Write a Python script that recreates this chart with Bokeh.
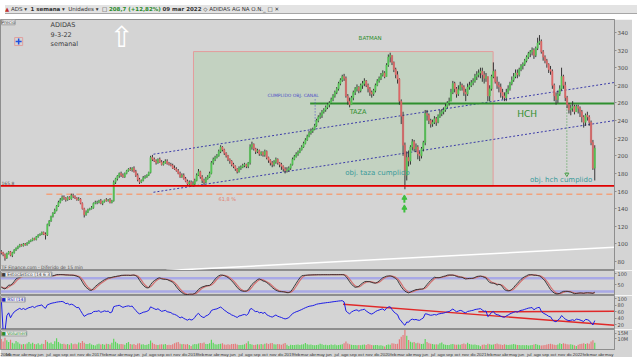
import numpy as np
import pandas as pd
from bokeh.plotting import figure
from bokeh.layouts import column
from bokeh.models import (ColumnDataSource, Range1d, FixedTicker,
                          CustomJSTickFormatter, Label, Div)
from bokeh.embed import file_html
from bokeh.resources import INLINE

# ---------------- data: weekly candles, ADIDAS (week starting Monday) ----------------
FIRST_WEEK = "2016-01-04"
FIRST_OPEN = 91.0

close_2016 = [90, 88, 84, 89, 91, 87, 90, 93, 95, 97, 99, 98, 100, 99, 101, 103, 104,
              106, 105, 108, 110, 111, 113, 111, 110, 122, 126, 131, 135, 138, 143, 147,
              150, 153, 152, 150, 153, 151, 155, 154, 152, 150, 151, 146, 140, 133, 136,
              139, 140, 141, 146, 147]
high_2016 = [93, 91, 89, 90, 92, 92, 91, 94, 96, 98, 100, 100, 101, 101, 102, 104, 105,
             107, 107, 109, 111, 112, 114, 114, 113, 123, 127, 132, 136, 140, 144, 149,
             152, 155, 155, 153, 154, 154, 157, 157, 155, 153, 153, 152, 147, 141, 138,
             140, 141, 143, 147, 149]
low_2016 = [88, 86, 81, 83, 88, 86, 85, 89, 92, 94, 96, 97, 97, 98, 98, 100, 102,
            103, 104, 104, 107, 109, 110, 110, 105, 109, 120, 125, 130, 134, 137, 142,
            146, 149, 150, 148, 149, 150, 150, 152, 151, 149, 149, 145, 139, 130, 132,
            135, 138, 139, 140, 145]

close_2017 = [147, 149, 146, 148, 150, 149, 150, 147, 149, 170, 174, 177, 180, 178, 176, 180, 183,
              185, 184, 186, 182, 178, 173, 170, 172, 175, 176, 178, 181, 198, 196, 194, 192, 196,
              193, 190, 192, 194, 191, 190, 189, 186, 185, 183, 180, 176, 178, 174, 171, 168, 170, 167]
high_2017 = [149, 150, 151, 149, 150, 152, 151, 152, 150, 172, 175, 178, 181, 182, 180, 181, 184,
             186, 187, 187, 188, 184, 180, 175, 173, 177, 178, 179, 182, 200, 201, 198, 196, 197,
             198, 195, 194, 196, 196, 193, 192, 191, 189, 187, 185, 182, 180, 180, 176, 173, 172, 172]
low_2017 = [145, 146, 145, 144, 147, 148, 148, 146, 146, 148, 168, 172, 175, 176, 175, 175, 179,
            182, 183, 182, 181, 176, 171, 168, 169, 171, 174, 175, 177, 180, 194, 193, 190, 191,
            192, 189, 189, 191, 190, 189, 188, 185, 184, 182, 179, 175, 175, 173, 170, 166, 166, 165]

close_2018 = [168, 172, 178, 182, 176, 172, 170, 174, 176, 180, 192, 196, 198, 200, 205, 210, 207,
              203, 200, 196, 194, 190, 188, 185, 182, 186, 187, 189, 190, 188, 192, 210, 213, 208,
              205, 206, 202, 204, 201, 205, 198, 195, 192, 190, 193, 196, 192, 190, 188, 185, 183,
              184, 186]
high_2018 = [171, 174, 180, 185, 183, 178, 174, 176, 178, 182, 194, 198, 200, 202, 207, 212, 211,
             208, 204, 201, 197, 195, 192, 189, 186, 188, 189, 191, 192, 191, 193, 213, 216, 214,
             209, 208, 207, 205, 205, 207, 206, 199, 196, 194, 195, 198, 197, 193, 192, 189, 187,
             187, 188]
low_2018 = [165, 166, 171, 177, 174, 169, 167, 169, 173, 175, 179, 190, 194, 197, 199, 203, 205,
            201, 198, 194, 191, 188, 186, 183, 180, 181, 184, 186, 187, 186, 186, 190, 207, 206,
            202, 203, 200, 200, 199, 199, 196, 192, 189, 187, 188, 191, 190, 187, 184, 182, 180,
            181, 182]

close_2019 = [190, 196, 199, 202, 204, 207, 210, 214, 218, 222, 226, 228, 230, 234, 240, 244, 246,
              250, 252, 255, 258, 260, 264, 268, 272, 276, 282, 286, 290, 288, 268, 262, 258, 266,
              272, 276, 278, 274, 280, 282, 285, 280, 276, 272, 270, 274, 280, 285, 288, 292, 294, 290]
high_2019 = [191, 198, 201, 204, 206, 209, 212, 216, 220, 224, 228, 231, 232, 236, 242, 246, 249,
             252, 254, 257, 260, 262, 266, 270, 274, 278, 284, 288, 292, 293, 290, 270, 266, 268,
             274, 278, 281, 279, 282, 285, 288, 286, 282, 278, 274, 276, 282, 287, 290, 294, 297, 296]
low_2019 = [184, 189, 195, 198, 200, 203, 206, 209, 213, 217, 221, 224, 226, 229, 233, 238, 242,
            243, 248, 250, 253, 255, 259, 262, 266, 270, 274, 280, 284, 285, 266, 258, 255, 258,
            263, 269, 273, 271, 272, 276, 279, 278, 272, 268, 266, 268, 272, 279, 283, 286, 290, 288]

close_2020 = [303, 312, 314, 306, 298, 292, 287, 262, 245, 212, 178, 198, 194, 210, 216, 208, 210,
              202, 200, 208, 215, 248, 246, 240, 236, 238, 242, 238, 245, 248, 250, 252, 256, 260,
              262, 272, 282, 276, 270, 275, 280, 278, 272, 270, 278, 280, 283, 285, 290, 292, 294, 296]
high_2020 = [305, 315, 317, 314, 307, 300, 296, 288, 264, 250, 215, 205, 206, 212, 219, 218, 214,
             212, 205, 210, 217, 252, 252, 248, 242, 241, 245, 244, 247, 252, 253, 255, 259, 262,
             266, 276, 285, 284, 278, 280, 284, 282, 280, 276, 282, 284, 286, 288, 293, 296, 298, 300]
low_2020 = [293, 301, 306, 303, 295, 288, 282, 258, 236, 200, 162, 172, 188, 190, 206, 205, 204,
            196, 194, 197, 205, 212, 240, 236, 232, 233, 236, 234, 237, 243, 245, 247, 250, 254,
            257, 262, 270, 272, 266, 268, 274, 274, 268, 262, 268, 275, 278, 280, 283, 286, 289, 288]

close_2021 = [292, 288, 290, 268, 276, 290, 296, 284, 280, 278, 272, 268, 266, 272, 276, 282, 286,
              290, 294, 292, 298, 302, 304, 308, 312, 316, 318, 320, 314, 322, 328, 330, 318, 312,
              308, 304, 298, 296, 280, 268, 264, 270, 276, 290, 280, 266, 258, 252, 254, 256, 250, 256]
high_2021 = [300, 296, 294, 290, 280, 292, 306, 298, 290, 284, 282, 276, 272, 276, 280, 284, 290,
             294, 298, 298, 300, 304, 306, 310, 314, 318, 320, 323, 322, 324, 334, 337, 332, 320,
             314, 310, 305, 302, 298, 282, 272, 274, 280, 300, 292, 284, 268, 260, 258, 262, 258, 258]
low_2021 = [284, 282, 284, 262, 262, 274, 288, 282, 276, 272, 266, 264, 262, 262, 270, 274, 280,
            284, 288, 288, 290, 296, 298, 302, 306, 310, 312, 314, 310, 312, 320, 326, 316, 308,
            305, 300, 294, 292, 276, 262, 258, 260, 268, 274, 276, 262, 254, 248, 246, 250, 247, 250]

close_2022 = [254, 250, 244, 238, 246, 244, 238, 215, 186, 208.7]
high_2022 = [258, 256, 252, 246, 248, 250, 246, 240, 218, 212]
low_2022 = [248, 244, 238, 232, 234, 240, 234, 212, 184, 172]

# weekly volume, millions of shares
vol_2016 = [9.5, 7.2, 10.8, 8.4, 6.9, 8.8, 6.1, 5.4, 7.8, 6.6, 5.2, 4.6, 5.1, 4.8, 5.5, 6.9, 5.3,
            6.2, 5.0, 4.7, 5.6, 4.4, 5.3, 4.9, 8.6, 7.0, 5.8, 6.3, 5.1, 7.4, 10.2, 6.8, 5.4, 4.9,
            5.2, 4.6, 5.0, 4.4, 5.8, 4.7, 5.3, 4.8, 6.4, 5.9, 7.7, 6.2, 5.1, 4.9, 5.6, 4.5, 4.1, 3.6]
vol_2017 = [4.8, 5.2, 4.6, 5.0, 4.4, 5.3, 4.9, 4.5, 6.2, 9.8, 7.1, 5.6, 4.8, 5.0, 4.7, 4.3, 5.9,
            6.8, 5.1, 4.6, 4.9, 4.2, 5.4, 5.8, 4.5, 4.7, 4.1, 4.4, 5.0, 8.2, 6.1, 4.9, 4.3, 4.0,
            4.5, 4.8, 4.6, 5.1, 4.2, 4.4, 4.0, 4.7, 5.6, 6.4, 6.9, 5.3, 4.8, 5.0, 4.6, 4.9, 4.1, 3.2]
vol_2018 = [4.6, 5.0, 4.7, 5.4, 6.0, 5.8, 6.3, 4.9, 5.1, 5.6, 8.9, 6.2, 4.8, 4.5, 4.9, 5.2, 5.8,
            4.6, 4.4, 4.8, 4.3, 4.9, 5.0, 5.3, 4.6, 4.2, 4.0, 4.4, 4.8, 5.7, 7.6, 5.1, 4.5, 4.2,
            4.3, 4.7, 4.5, 4.9, 4.6, 5.3, 5.8, 4.9, 5.6, 6.0, 4.7, 4.5, 5.1, 4.8, 4.4, 5.2, 5.9,
            4.3, 3.1]
vol_2019 = [4.4, 4.2, 4.0, 4.3, 4.6, 4.1, 4.5, 4.8, 5.9, 4.7, 4.3, 4.5, 4.1, 3.9, 4.2, 4.4, 5.2,
            4.8, 4.0, 4.3, 3.8, 4.1, 4.5, 4.2, 4.6, 3.9, 4.0, 4.3, 4.8, 5.6, 7.2, 5.4, 4.7, 4.4,
            4.0, 4.2, 3.9, 4.1, 3.8, 4.3, 4.5, 4.0, 5.0, 4.6, 4.2, 3.9, 4.1, 4.0, 3.7, 3.9, 3.5, 2.8]
vol_2020 = [4.2, 4.6, 4.4, 5.8, 5.5, 4.9, 5.3, 9.4, 11.6, 13.2, 17.8, 12.4, 8.6, 7.1, 6.4, 6.9,
            5.8, 6.2, 5.5, 5.0, 5.3, 9.6, 6.8, 5.7, 5.2, 4.9, 4.6, 4.8, 4.5, 5.6, 6.3, 4.8, 4.4,
            4.2, 4.0, 4.7, 4.9, 4.5, 4.3, 4.6, 4.4, 5.1, 5.5, 4.8, 6.2, 5.0, 4.6, 4.3, 4.5, 4.2,
            3.9, 3.0]
vol_2021 = [4.3, 4.5, 4.1, 5.2, 4.8, 4.4, 4.6, 4.9, 5.4, 4.7, 4.5, 4.2, 4.8, 4.4, 4.0, 4.3, 4.6,
            5.0, 4.5, 4.1, 4.0, 3.9, 4.2, 3.8, 4.1, 3.7, 3.9, 4.0, 4.6, 5.1, 4.4, 3.9, 3.6, 3.8,
            4.2, 4.6, 4.9, 5.3, 4.7, 4.4, 4.2, 4.5, 5.6, 4.9, 5.8, 5.2, 4.8, 4.5, 4.7, 4.3, 3.9, 3.1]
vol_2022 = [4.4, 4.9, 5.2, 5.8, 5.1, 5.6, 5.3, 7.2, 8.4, 6.1]

# chart levels / drawn objects (dates, prices)
SUPPORT = 165.8
FIB_618 = 156.4
NECKLINE = 259.3
BOX = dict(left="2018-01-03", right="2021-02-14", bottom=165.8, top=318.3)
CHANNEL_UP = (("2017-08-04", 201.8), ("2022-05-21", 283.2))
CHANNEL_DN = (("2017-08-04", 158.6), ("2022-05-21", 240.0))
LONG_LINE = (("2017-09-22", 69.7), ("2022-05-21", 96.2))
RSI_TREND_1 = (("2019-07-25", 83.5), ("2022-05-21", 18.5))
RSI_TREND_2 = (("2020-12-20", 60.0), ("2022-05-21", 61.5))

MONTHS = ["feb", "mar", "abr", "may", "jun", "jul", "ago", "sep", "oct", "nov", "dic"]
PRICE_TICKS = list(range(80, 361, 20))

# ---------------- derived arrays ----------------
closes = np.array(close_2016 + close_2017 + close_2018 + close_2019 + close_2020 + close_2021 + close_2022, float)
highs = np.array(high_2016 + high_2017 + high_2018 + high_2019 + high_2020 + high_2021 + high_2022, float)
lows = np.array(low_2016 + low_2017 + low_2018 + low_2019 + low_2020 + low_2021 + low_2022, float)
vols = np.array(vol_2016 + vol_2017 + vol_2018 + vol_2019 + vol_2020 + vol_2021 + vol_2022, float)
n = len(closes)
dates = pd.date_range(FIRST_WEEK, periods=n, freq="7D")
opens = np.concatenate([[FIRST_OPEN], closes[:-1]])
hi = np.maximum(highs, np.maximum(opens, closes))
lo = np.minimum(lows, np.minimum(opens, closes))
up = closes >= opens
UPC, DNC = "#55c455", "#e06868"
col = np.where(up, UPC, DNC)
vcol = np.where(up, "#5cd65c", "#e57a7a")

C = pd.Series(closes)
hh = pd.Series(hi).rolling(14, min_periods=1).max()
ll = pd.Series(lo).rolling(14, min_periods=1).min()
kraw = 100 * (C - ll) / (hh - ll).replace(0, np.nan)
stk = kraw.rolling(6, min_periods=1).mean()
std = stk.rolling(3, min_periods=1).mean()
delta = C.diff().fillna(0)
ag = delta.clip(lower=0).ewm(alpha=1 / 14, adjust=False).mean()
al = (-delta.clip(upper=0)).ewm(alpha=1 / 14, adjust=False).mean()
rsi = 100 - 100 / (1 + ag / al.replace(0, np.nan))
rsi = rsi.fillna(100)

src = ColumnDataSource(dict(t=dates, o=opens, h=hi, l=lo, c=closes,
                            top=np.maximum(opens, closes), bot=np.minimum(opens, closes),
                            col=col, vol=vols, vcol=vcol, k=stk.values, d=std.values, rsi=rsi.values))


def ms(s):
    return pd.Timestamp(s).value / 1e6


DAY = 86400000.0
X_START, X_END = ms("2016-01-01"), ms("2022-05-21")
xr = Range1d(X_START, X_END)
BG = "#d4d4d4"
FONT = "DejaVu Sans"


def make_fig(fh, yr, xaxis=False, bottom=0):
    f = figure(frame_width=614, frame_height=fh, x_range=xr, y_range=yr,
               x_axis_type="datetime", x_axis_location="below" if xaxis else None,
               y_axis_location="right", output_backend="svg", toolbar_location=None,
               min_border=0, min_border_left=0, min_border_right=18, min_border_top=0,
               min_border_bottom=bottom, background_fill_color=BG, border_fill_color=BG,
               outline_line_color="#8e8e8e")
    f.grid.visible = False
    return f


def style_axis(ax, ticks, size="5.5px"):
    ax.ticker = FixedTicker(ticks=ticks)
    ax.major_label_text_font_size = size
    ax.major_label_text_color = "#4a4a4a"
    ax.major_label_text_font = FONT
    ax.major_tick_in = 0
    ax.major_tick_out = 2
    ax.minor_tick_in = 0
    ax.minor_tick_out = 0
    ax.major_label_standoff = 1
    ax.axis_line_color = "#8e8e8e"
    ax.major_tick_line_color = "#8e8e8e"


def lab(fig, x, y, text, color="#3c3c3c", size="6px", align="left", base="middle", **kw):
    fig.add_layout(Label(x=x, y=y, text=text, text_color=color, text_font_size=size,
                         text_font=FONT, text_align=align, text_baseline=base, **kw))


# ---------------- toolbar strip ----------------
bar = Div(text='<span style="color:#c03030">&#9650;</span> ADS &#9662; &nbsp;<b>1 semana</b> &#9662; &nbsp;Unidades &#9662; &nbsp;&#9633; '
               '<b style="color:#2a8a2a">208,7 (+12,82%)</b> <b>09 mar 2022</b> &#9671; ADIDAS AG NA O.N.'
               '<span style="float:right;padding-right:6px">_ &#9633; &#10005;</span>',
          width=632, height=9,
          styles={"background-color": "#e3e3e3", "font-size": "5.5px", "font-family": FONT,
                  "line-height": "9px", "white-space": "nowrap", "overflow": "hidden",
                  "color": "#333", "border-bottom": "1px solid #a6a6a6"})

# ---------------- main price panel ----------------
p = make_fig(251, Range1d(69.8, 354.7))
style_axis(p.yaxis[0], PRICE_TICKS)

p.quad(left=[ms(BOX["left"])], right=[ms(BOX["right"])], bottom=[BOX["bottom"]], top=[BOX["top"]],
       fill_color="#c3d2c1", line_color="#e39c9c", line_width=1)
p.line([ms(LONG_LINE[0][0]), ms(LONG_LINE[1][0])], [LONG_LINE[0][1], LONG_LINE[1][1]],
       color="white", line_width=1.5)
p.segment(x0=[ms("2016-06-23")], y0=[FIB_618], x1=[X_END], y1=[FIB_618],
          color="#f2a27c", line_width=1.5, line_dash="6 4")
for (a, b) in (CHANNEL_UP, CHANNEL_DN):
    p.line([ms(a[0]), ms(b[0])], [a[1], b[1]], color="#3b3ba8", line_width=1, line_dash="2 2")
p.segment(x0=[ms("2019-03-22")], y0=[NECKLINE], x1=[X_END], y1=[NECKLINE],
          color="#2f8f2f", line_width=2)
p.segment(x0=[ms("2019-04-10")], y0=[264], x1=[ms("2019-04-10")], y1=[229.6],
          color="#5555c8", line_width=1, line_dash="1 2")
p.segment(x0=[ms("2021-11-21")], y0=[NECKLINE], x1=[ms("2021-11-21")], y1=[178],
          color="#4aa04a", line_width=1, line_dash="1 2")
p.scatter([ms("2021-11-21")], [179], marker="inverted_triangle", size=4,
          fill_color=None, line_color="#4aa04a")
p.segment(x0="t", y0="h", x1="t", y1="l", source=src, color="#363636", line_width=1)
p.vbar(x="t", width=5 * DAY, top="top", bottom="bot", fill_color="col", line_color="col",
       line_width=0.5, source=src)
p.segment(x0=[X_START], y0=[SUPPORT], x1=[X_END], y1=[SUPPORT], color="#e00000", line_width=1.6)
# green arrows under the 2020 low
for yv in (151.3, 140.0):
    p.segment(x0=[ms("2020-03-14")], y0=[yv - 4.5], x1=[ms("2020-03-14")], y1=[yv], color="#3fbf3f", line_width=2)
    p.scatter([ms("2020-03-14")], [yv + 1], marker="triangle", size=5, color="#3fbf3f")
p.scatter([ms("2016-03-10")], [329.7], marker="square", size=8, fill_color=None, line_color="#e0a0a0")
p.scatter([ms("2016-03-10")], [329.7], marker="cross", size=6, line_color="#2050e0", line_width=1.5)

lab(p, X_START, 351.5, "Precio", size="4.5px", x_offset=1, background_fill_color="#ececec",
    border_line_color="#a0a0a0")
lab(p, ms("2016-07-09"), 347.9, "ADIDAS", size="6.5px")
lab(p, ms("2016-07-09"), 337.6, "9-3-22", size="6.5px")
lab(p, ms("2016-07-09"), 327.4, "semanal", size="6.5px")
lab(p, ms("2017-04-05"), 354.2, "\u21e7", color="white", size="29px", align="center", base="top")
lab(p, ms("2019-11-05"), 334.2, "BATMAN", color="#2f8f2f", size="5.5px", align="center")
lab(p, ms("2019-04-24"), 268.3, "CUMPLIDO OBJ. CANAL", color="#5050c8", size="4.5px", align="right")
lab(p, ms("2019-09-20"), 249.2, "TAZA", color="#2f8f2f", size="6.5px", align="center")
lab(p, ms("2021-06-23"), 247.0, "HCH", color="#2f8f2f", size="9px", align="center")
lab(p, ms("2019-08-02"), 180.0, "obj. taza cumplido", color="#3a9a9a", size="7px")
lab(p, ms("2021-07-04"), 173.0, "obj. hch cumplido", color="#3a9a9a", size="7px")
lab(p, ms("2018-05-11"), 151.5, "61,8 %", color="#e08070", size="5px", align="center")
lab(p, X_START, 169.5, "165,8", color="#505050", size="4.5px", x_offset=1)
lab(p, X_START, 73.2, "TF Finance.com - Diferido de 15 min", color="#505050", size="4.5px", x_offset=1)
lab(p, X_END, 343.3, "342,8", color="#333", size="5px", x_offset=2, background_fill_color="#f2f23a")
lab(p, X_END, 208.7, "208,7", color="#333", size="5px", x_offset=2, background_fill_color="#f2f23a")

# ---------------- stochastic ----------------
ps = make_fig(25, Range1d(1.8, 114.9))
style_axis(ps.yaxis[0], [50, 100], size="5px")
for lvl in (80, 20):
    ps.segment(x0=[X_START], y0=[lvl], x1=[X_END], y1=[lvl], color="#a9a9e6", line_width=2.5)
ps.line("t", "d", source=src, color="#d27070", line_width=1.2)
ps.line("t", "k", source=src, color="#2a2a2a", line_width=0.9)
lab(ps, X_START, 96.8, "\u25a0 Estocástico (14 6 3)", size="4.5px", x_offset=1,
    background_fill_color="#ececec", border_line_color="#a0a0a0")

# ---------------- RSI ----------------
pr = make_fig(34, Range1d(5.2, 110.5))
style_axis(pr.yaxis[0], [20, 40, 60, 80, 100], size="5px")
for (a, b) in (RSI_TREND_1, RSI_TREND_2):
    pr.line([ms(a[0]), ms(b[0])], [a[1], b[1]], color="#e02828", line_width=1.4)
pr.line("t", "rsi", source=src, color="#1c1ce6", line_width=1)
lab(pr, X_START, 98, "\u25a0 RSI (14)", size="4.5px", x_offset=1, color="#2020c0",
    background_fill_color="#ececec", border_line_color="#a0a0a0")
lab(pr, X_END, float(rsi.values[-1]), ("%.2f" % rsi.values[-1]).replace(".", ","), color="#333",
    size="4.5px", x_offset=2, background_fill_color="#b8b8f0")

# ---------------- volume ----------------
pv = make_fig(20, Range1d(0, 18.2), xaxis=True, bottom=10)
style_axis(pv.yaxis[0], [10, 15], size="5px")
pv.yaxis[0].formatter = CustomJSTickFormatter(code="return tick + 'M';")
pv.vbar(x="t", width=4.5 * DAY, top="vol", bottom=0, fill_color="vcol", line_color=None, source=src)
lab(pv, X_START, 14.6, "\u25a0 Volumen", size="4.5px", x_offset=1, color="#2a8a2a",
    background_fill_color="#ececec", border_line_color="#a0a0a0")
lab(pv, X_END, float(vols[-1]), "6,130k", color="#333", size="4.5px", x_offset=2,
    background_fill_color="#9be09b")

tick_ms, tick_lb = [ms("2016-01-20")], ["2016"]
for yr in range(2016, 2023):
    for m in range(1, 13):
        t = pd.Timestamp(year=yr, month=m, day=1)
        if t <= pd.Timestamp("2016-01-01") or t > pd.Timestamp("2022-05-21"):
            continue
        tick_ms.append(t.value / 1e6)
        tick_lb.append(str(yr) if m == 1 else MONTHS[m - 2])
xa = pv.xaxis[0]
xa.ticker = FixedTicker(ticks=tick_ms)
xa.formatter = CustomJSTickFormatter(args=dict(tk=tick_ms, lb=tick_lb),
                                     code="const i = tk.indexOf(tick); return i < 0 ? '' : lb[i];")
xa.major_label_text_font_size = "4.4px"
xa.major_label_text_font = "Liberation Sans"
xa.major_label_text_color = "#333"
xa.major_tick_out = 0
xa.major_tick_in = 0
xa.minor_tick_out = 0
xa.major_label_standoff = 2
xa.axis_line_color = "#8e8e8e"

layout = column(bar, p, ps, pr, pv, spacing=0)
open("out.html", "w").write(file_html(layout, INLINE))
